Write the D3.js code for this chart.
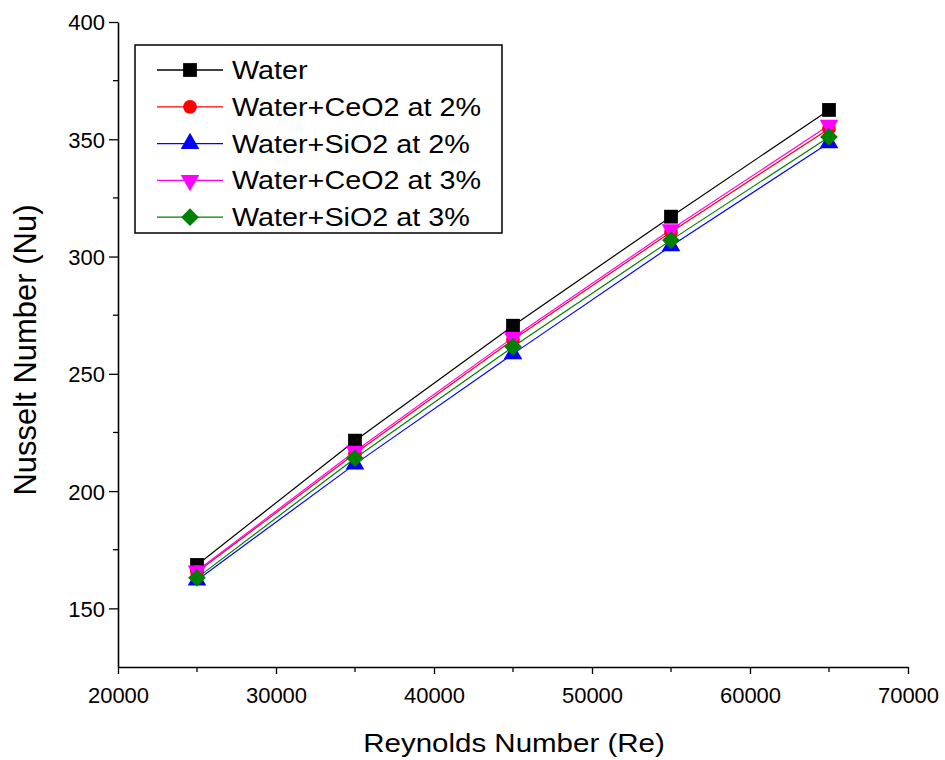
<!DOCTYPE html>
<html>
<head>
<meta charset="utf-8">
<script src="https://cdn.jsdelivr.net/npm/d3@7"></script>
<style>
  body { margin: 0; background: #fff; }
  text { font-family: "Liberation Sans", Arial, sans-serif; fill: #000; }
</style>
</head>
<body>
<svg id="chart" width="945" height="760"></svg>
<script>
const reynolds = [25000, 35000, 45000, 55000, 65000]
const water = [168.5, 221.5, 270.5, 317, 362.5]
const ceo2At2 = [165.5, 216, 264.5, 310.5, 354.5]
const sio2At2 = [162, 211.5, 258.5, 304.5, 348.5]
const ceo2At3 = [166, 217, 265.5, 311.5, 356]
const sio2At3 = [163, 214, 261.5, 307, 351]
const xTicks = [20000, 30000, 40000, 50000, 60000, 70000]
const yTicks = [150, 200, 250, 300, 350, 400]

const series = [
  {name: 'Water', values: water, color: '#000000', symbol: d3.symbolSquare, rot: 0},
  {name: 'Water+CeO2 at 2%', values: ceo2At2, color: '#ff0000', symbol: d3.symbolCircle, rot: 0},
  {name: 'Water+SiO2 at 2%', values: sio2At2, color: '#0000ff', symbol: d3.symbolTriangle, rot: 0},
  {name: 'Water+CeO2 at 3%', values: ceo2At3, color: '#ff00ff', symbol: d3.symbolTriangle, rot: 180},
  {name: 'Water+SiO2 at 3%', values: sio2At3, color: '#008000', symbol: d3.symbolDiamond2, rot: 0},
]

const margin = {top: 22, left: 118, right: 37, bottom: 93}
const width = 945 - margin.left - margin.right
const height = 760 - margin.top - margin.bottom

const svg = d3.select('#chart')
const g = svg.append('g').attr('transform', `translate(${margin.left},${margin.top})`)

const x = d3.scaleLinear().domain([20000, 70000]).range([0, width])
const y = d3.scaleLinear().domain([125, 400]).range([height, 0])

// symbol areas tuned so markers look like the Origin ones (~14px)
const symbolSize = s => s === d3.symbolCircle ? 150 : (s === d3.symbolTriangle ? 150 : (s === d3.symbolDiamond2 ? 200 : 190))
const symbolPath = s => d3.symbol().type(s.symbol).size(symbolSize(s.symbol))()

// axes
const xAxis = g.append('g').attr('transform', `translate(0,${height})`)
  .call(d3.axisBottom(x).tickValues(xTicks).tickSize(7).tickSizeOuter(0).tickFormat(d3.format('d')))
xAxis.append('g').selectAll('line')
  .data(d3.range(25000, 70000, 10000)).join('line')
  .attr('x1', d => x(d)).attr('x2', d => x(d)).attr('y1', 0).attr('y2', 5)
  .attr('stroke', '#000').attr('stroke-width', 1.3)

const yAxis = g.append('g')
  .call(d3.axisLeft(y).tickValues(yTicks).tickSize(9).tickSizeOuter(0))
yAxis.append('g').selectAll('line')
  .data(d3.range(175, 400, 50)).join('line')
  .attr('x1', 0).attr('x2', -5).attr('y1', d => y(d)).attr('y2', d => y(d))
  .attr('stroke', '#000').attr('stroke-width', 1.3)

for (const ax of [xAxis, yAxis]) {
  ax.select('.domain').attr('stroke-width', 1.6)
  ax.selectAll('.tick line').attr('stroke-width', 1.3)
  ax.selectAll('.tick text').attr('font-size', 22).attr('font-family', '"Liberation Sans", Arial, sans-serif')
}
xAxis.selectAll('.tick text').attr('dy', '1.2em')
yAxis.selectAll('.tick text').attr('x', -13).attr('dy', '0.36em')

// axis titles
svg.append('text')
  .attr('transform', `translate(${margin.left + width / 2 + 1},752) scale(1.18,1)`)
  .attr('text-anchor', 'middle').attr('font-size', 25)
  .text('Reynolds Number (Re)')
svg.append('text')
  .attr('transform', `translate(36,350) rotate(-90)`)
  .attr('text-anchor', 'middle').attr('font-size', 31)
  .text('Nusselt Number (Nu)')

// lines
const line = d3.line().x((d, i) => x(reynolds[i])).y(d => y(d))
g.selectAll('.serie').data(series).join('path')
  .attr('class', 'serie')
  .attr('d', s => line(s.values))
  .attr('fill', 'none').attr('stroke', s => s.color).attr('stroke-width', 1.2)

// markers
series.forEach(s => {
  g.append('g').selectAll('path').data(s.values).join('path')
    .attr('d', symbolPath(s))
    .attr('transform', (d, i) => `translate(${x(reynolds[i])},${y(d)}) rotate(${s.rot})`)
    .attr('fill', s.color)
})

// legend
const legend = svg.append('g').attr('transform', 'translate(135,45)')
legend.append('rect').attr('width', 367).attr('height', 188)
  .attr('fill', '#fff').attr('stroke', '#000').attr('stroke-width', 1.5)
const rows = legend.selectAll('.row').data(series).join('g')
  .attr('class', 'row').attr('transform', (d, i) => `translate(0,${25 + i * 36.8})`)
rows.append('line').attr('x1', 22).attr('x2', 88)
  .attr('stroke', s => s.color).attr('stroke-width', 1.3)
rows.append('path').attr('d', s => symbolPath(s))
  .attr('transform', s => `translate(55,0) rotate(${s.rot})`)
  .attr('fill', s => s.color)
rows.append('text')
  .attr('transform', 'translate(97,9) scale(1.15,1)')
  .attr('font-size', 25)
  .text(s => s.name)
</script>
</body>
</html>
